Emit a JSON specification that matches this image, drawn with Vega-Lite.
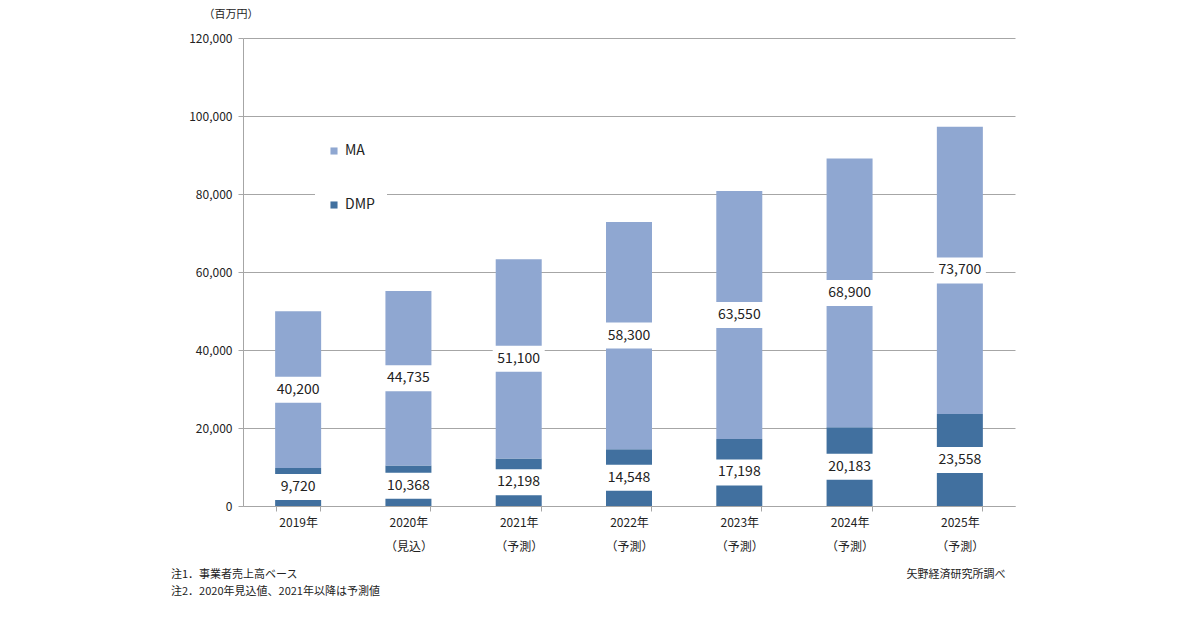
{
  "$schema": "https://vega.github.io/schema/vega-lite/v6.json",
  "width": 772,
  "height": 468,
  "autosize": {"type": "none"},
  "padding": {"left": 243, "top": 38, "right": 185, "bottom": 124},
  "background": "white",
  "config": {
    "font": "Noto Sans CJK JP",
    "view": {"stroke": null},
    "axisY": {
      "titleAngle": 0,
      "titleAlign": "left",
      "titleBaseline": "middle",
      "titleX": -40,
      "titleY": -24,
      "titleFontSize": 11,
      "titleFontWeight": "normal",
      "titleColor": "#222",
      "labelExpr": "format(datum.value, ',')",
      "labelFontSize": 12,
      "labelColor": "#222",
      "labelPadding": 6,
      "gridColor": "#a6a6a6",
      "domainColor": "#a6a6a6",
      "tickColor": "#a6a6a6",
      "tickSize": 5
    }
  },
  "title": {
    "text": ["注1．事業者売上高ベース", "注2．2020年見込値、2021年以降は予測値"],
    "orient": "bottom",
    "anchor": "start",
    "frame": "group",
    "dx": -72,
    "offset": -10,
    "fontSize": 11,
    "fontWeight": "normal",
    "color": "#222",
    "lineHeight": 17
  },
  "data": {
    "values": [
      {"year": "2019年", "series": "DMP", "value": 9720},
      {"year": "2019年", "series": "MA", "value": 40200},
      {"year": "2020年 （見込）", "series": "DMP", "value": 10368},
      {"year": "2020年 （見込）", "series": "MA", "value": 44735},
      {"year": "2021年 （予測）", "series": "DMP", "value": 12198},
      {"year": "2021年 （予測）", "series": "MA", "value": 51100},
      {"year": "2022年 （予測）", "series": "DMP", "value": 14548},
      {"year": "2022年 （予測）", "series": "MA", "value": 58300},
      {"year": "2023年 （予測）", "series": "DMP", "value": 17198},
      {"year": "2023年 （予測）", "series": "MA", "value": 63550},
      {"year": "2024年 （予測）", "series": "DMP", "value": 20183},
      {"year": "2024年 （予測）", "series": "MA", "value": 68900},
      {"year": "2025年 （予測）", "series": "DMP", "value": 23558},
      {"year": "2025年 （予測）", "series": "MA", "value": 73700}
    ]
  },
  "encoding": {
    "x": {
      "field": "year",
      "type": "nominal",
      "sort": null,
      "scale": {"paddingInner": 0.6, "paddingOuter": 0.3},
      "axis": {
        "title": "矢野経済研究所調べ",
        "titleAnchor": "end",
        "titleAlign": "right",
        "titleX": 762,
        "titleY": 62,
        "titleFontSize": 11,
        "titleFontWeight": "normal",
        "titleColor": "#222",
        "labelAngle": 0,
        "labelExpr": "isValid(datum.value) ? split(datum.value, ' ') : ''",
        "labelFontSize": 12,
        "labelColor": "#222",
        "labelLineHeight": 24,
        "labelPadding": 6,
        "tickBand": "extent",
        "tickColor": "#a6a6a6",
        "tickSize": 5,
        "domainColor": "#a6a6a6",
        "grid": false
      }
    }
  },
  "layer": [
    {
      "mark": {"type": "bar", "width": 46},
      "encoding": {
        "y": {
          "field": "value",
          "type": "quantitative",
          "stack": "zero",
          "scale": {"domain": [0, 120000], "nice": false},
          "axis": {"title": "（百万円）", "values": [0, 20000, 40000, 60000, 80000, 100000, 120000]}
        },
        "order": {"field": "series", "sort": "ascending"},
        "color": {
          "field": "series",
          "type": "nominal",
          "scale": {"domain": ["MA", "DMP"], "range": ["#8fa7d1", "#41709f"]},
          "legend": {
            "title": null,
            "orient": "none",
            "legendX": 72,
            "legendY": 94,
            "fillColor": "white",
            "padding": 12,
            "symbolType": "square",
            "symbolSize": 50,
            "symbolStrokeWidth": 0,
            "labelFontSize": 14,
            "labelColor": "#222",
            "labelOffset": 4,
            "rowPadding": 40
          }
        }
      }
    },
    {
      "transform": [
        {"stack": "value", "groupby": ["year"], "sort": [{"field": "series", "order": "ascending"}], "as": ["v0", "v1"]},
        {"calculate": "(datum.v0 + datum.v1) / 2", "as": "mid"}
      ],
      "layer": [
        {
          "mark": {"type": "tick", "color": "white", "thickness": 26, "size": 52, "opacity": 1},
          "encoding": {
            "y": {"field": "mid", "type": "quantitative", "axis": {"title": "（百万円）", "values": [0, 20000, 40000, 60000, 80000, 100000, 120000]}}
          }
        },
        {
          "mark": {"type": "text", "fontSize": 14, "color": "#222", "baseline": "middle"},
          "encoding": {
            "y": {"field": "mid", "type": "quantitative", "axis": {"title": "（百万円）", "values": [0, 20000, 40000, 60000, 80000, 100000, 120000]}},
            "text": {"field": "value", "type": "quantitative", "format": ","}
          }
        }
      ]
    }
  ]
}
